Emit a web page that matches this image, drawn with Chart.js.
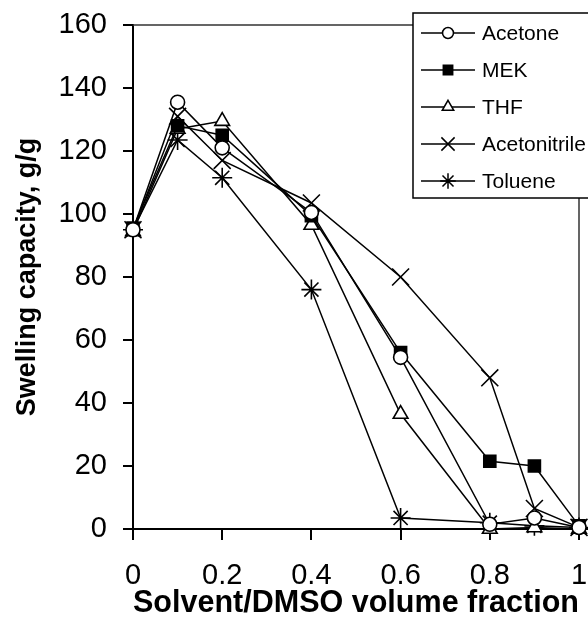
<!DOCTYPE html>
<html>
<head>
<meta charset="utf-8">
<script src="https://cdn.jsdelivr.net/npm/chart.js@4.4.0/dist/chart.umd.min.js"></script>
<style>
  html, body { margin: 0; padding: 0; background: #fff; }
  #wrap { width: 588px; height: 627px; }
</style>
</head>
<body>
<div id="wrap"><canvas id="swellChart" width="588" height="627"></canvas></div>
<script>
const fractions = [0, 0.1, 0.2, 0.4, 0.6, 0.8, 0.9, 1];
const acetone = [95, 135.5, 121, 100.5, 54.5, 1.5, 3.5, 0.5];
const mek = [95.5, 128, 125, 99.5, 56, 21.5, 20, 1];
const thf = [94.5, 127, 129.5, 96.5, 36.5, 0, 0.5, 0];
const acetonitrile = [95, 131, 117, 103.5, 80, 48, 6.5, 0.5];
const toluene = [95, 123.5, 111.5, 76, 3.5, 2, 1, 0.5];
const xTicks = [0, 0.2, 0.4, 0.6, 0.8, 1];
const xTickLabels = ['0', '0.2', '0.4', '0.6', '0.8', '1'];
const yTicks = [0, 20, 40, 60, 80, 100, 120, 140, 160];

const FONT = "'Liberation Sans', Arial, sans-serif";

function pts(ys) {
  return fractions.map((x, i) => ({ x: x, y: ys[i] }));
}

function series(label, ys, style, radius, fill) {
  return {
    label: label,
    data: pts(ys),
    borderColor: '#000',
    borderWidth: 1.5,
    pointStyle: style,
    pointRadius: radius,
    pointHoverRadius: radius,
    pointBorderColor: '#000',
    pointBorderWidth: 1.6,
    pointBackgroundColor: fill,
    tension: 0,
    clip: false
  };
}

// plot frame (top + right) and the x axis running off the right edge
const framePlugin = {
  id: 'frame',
  beforeDatasetsDraw(chart) {
    const a = chart.chartArea;
    const c = chart.ctx;
    c.save();
    c.strokeStyle = '#333';
    c.lineWidth = 1.5;
    c.beginPath();
    c.moveTo(a.left, a.top);
    c.lineTo(a.right, a.top);
    c.lineTo(a.right, a.bottom);
    c.stroke();
    c.strokeStyle = '#000';
    c.lineWidth = 2;
    c.beginPath();
    c.moveTo(a.right, a.bottom);
    c.lineTo(chart.width, a.bottom);
    c.stroke();
    c.restore();
  }
};

// boxed legend with line + marker samples
const legendBox = {
  id: 'legendBox',
  afterDraw(chart) {
    const c = chart.ctx;
    const x0 = 413, y0 = 13, w = 200, h = 185;
    c.save();
    c.fillStyle = '#fff';
    c.fillRect(x0, y0, w, h);
    c.strokeStyle = '#000';
    c.lineWidth = 1.5;
    c.strokeRect(x0, y0, w, h);
    c.font = '21px ' + FONT;
    c.textBaseline = 'middle';
    chart.data.datasets.forEach((ds, i) => {
      const y = 33 + i * 37;
      c.strokeStyle = '#000';
      c.lineWidth = 1.5;
      c.beginPath();
      c.moveTo(421, y);
      c.lineTo(475, y);
      c.stroke();
      c.lineWidth = 1.5;
      c.fillStyle = ds.pointBackgroundColor;
      Chart.helpers.drawPoint(c, {
        pointStyle: ds.pointStyle,
        radius: ds.pointRadius * 0.78,
        rotation: 0,
        borderWidth: 1.5
      }, 448, y);
      c.fillStyle = '#000';
      c.fillText(ds.label, 482, y + 1);
    });
    c.restore();
  }
};

new Chart(document.getElementById('swellChart'), {
  type: 'line',
  data: {
    datasets: [
      series('Acetone', acetone, 'circle', 7, '#fff'),
      series('MEK', mek, 'rect', 8.5, '#000'),
      series('THF', thf, 'triangle', 8.5, '#fff'),
      series('Acetonitrile', acetonitrile, 'crossRot', 12, '#000'),
      series('Toluene', toluene, 'star', 10, '#000')
    ]
  },
  options: {
    responsive: false,
    animation: false,
    events: [],
    layout: { autoPadding: false, padding: { top: 25, right: 9, left: 0, bottom: 0 } },
    plugins: {
      legend: { display: false },
      tooltip: { enabled: false }
    },
    scales: {
      x: {
        type: 'linear',
        min: 0,
        max: 1,
        afterBuildTicks: (s) => { s.ticks = xTicks.map(v => ({ value: v })); },
        afterFit: (s) => { s.height = 98; s.paddingLeft = 0; s.paddingRight = 0; },
        grid: { drawOnChartArea: false, tickLength: 11, color: '#000', lineWidth: 2 },
        border: { color: '#000', width: 2 },
        ticks: {
          color: '#000', font: { family: FONT, size: 29 }, padding: 19, maxRotation: 0,
          callback: (v) => xTickLabels[xTicks.indexOf(v)]
        },
        title: { display: true, text: 'Solvent/DMSO volume fraction', color: '#000',
                 font: { family: FONT, size: 31, weight: 'bold' }, padding: { top: 0, bottom: 5 } }
      },
      y: {
        min: 0,
        max: 160,
        afterBuildTicks: (s) => { s.ticks = yTicks.map(v => ({ value: v })); },
        afterFit: (s) => { s.width = 133; s.paddingTop = 0; s.paddingBottom = 0; },
        grid: { drawOnChartArea: false, tickLength: 10, color: '#000', lineWidth: 2 },
        border: { color: '#000', width: 2 },
        ticks: { color: '#000', font: { family: FONT, size: 29 }, padding: 16 },
        title: { display: true, text: 'Swelling capacity, g/g', color: '#000',
                 font: { family: FONT, size: 27, weight: 'bold' }, padding: { top: 11, bottom: 0 } }
      }
    }
  },
  plugins: [framePlugin, legendBox]
});
</script>
</body>
</html>
